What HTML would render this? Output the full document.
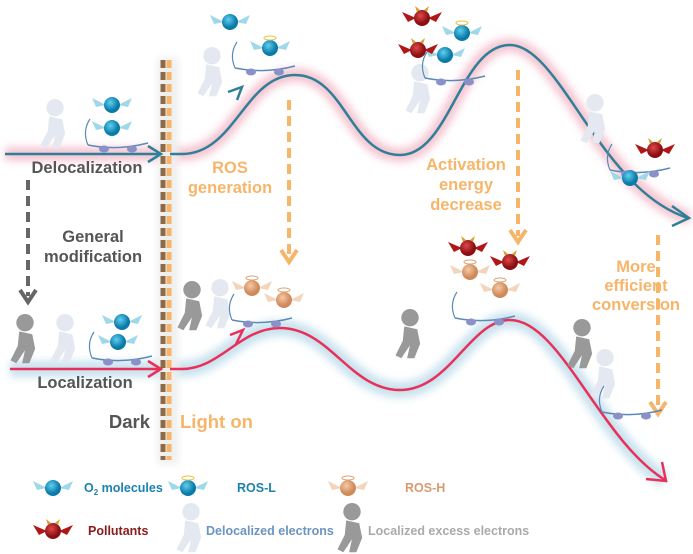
<!DOCTYPE html>
<html><head><meta charset="utf-8"><style>
body{margin:0;background:#fff}
svg{display:block;font-family:"Liberation Sans",sans-serif;font-weight:bold}
</style></head><body>
<svg width="693" height="554" viewBox="0 0 693 554">
<defs>
<filter id="b" x="-20%" y="-20%" width="140%" height="140%"><feGaussianBlur stdDeviation="4"/></filter>
<radialGradient id="blue" cx="40%" cy="35%"><stop offset="0" stop-color="#5fd0f0"/><stop offset="1" stop-color="#0a7aa8"/></radialGradient>
<radialGradient id="tan" cx="40%" cy="35%"><stop offset="0" stop-color="#f5c9a4"/><stop offset="1" stop-color="#cf8a5c"/></radialGradient>
<radialGradient id="red" cx="40%" cy="35%"><stop offset="0" stop-color="#e0484a"/><stop offset="1" stop-color="#8a0f12"/></radialGradient>
<g id="o2"><path d="M-6,0 L-20,-7 L-16,2 Z M6,0 L20,-7 L16,2 Z" fill="#9fd8e8"/><circle r="8" fill="url(#blue)"/></g>
<g id="rosl"><use href="#o2"/><ellipse cx="0" cy="-10" rx="6" ry="2" fill="none" stroke="#e8c040" stroke-width="1"/></g>
<g id="rosh"><path d="M-6,0 L-20,-7 L-16,2 Z M6,0 L20,-7 L16,2 Z" fill="#f3d4bc"/><circle r="8" fill="url(#tan)"/><ellipse cx="0" cy="-10" rx="6" ry="2" fill="none" stroke="#d9a070" stroke-width="1"/></g>
<g id="pol"><path d="M-6,0 L-20,-6 L-14,4 Z M6,0 L20,-6 L14,4 Z" fill="#b01818"/><circle r="8" fill="url(#red)"/><path d="M-5,-6 L-7,-12 L-2,-8Z M5,-6 L7,-12 L2,-8Z" fill="#d4a030"/></g>
<g id="man0"><circle cx="0" cy="-14" r="6"/><path d="M-4,-8 L5,-6 L7,4 L3,14 L-2,14 L0,5 L-6,14 L-10,12 L-5,2 Z"/></g>
<g id="man"><use href="#man0" transform="scale(1.45)"/></g>
<g id="cart"><path d="M-30,0 Q0,6 30,-2" fill="none" stroke="#5a8ab8" stroke-width="1.5"/><path d="M-30,0 Q-36,-14 -28,-26" fill="none" stroke="#5a8ab8" stroke-width="1.2"/><ellipse cx="-14" cy="4" rx="5" ry="3.5" fill="#8a90c8"/><ellipse cx="14" cy="4" rx="5" ry="3.5" fill="#8a90c8"/></g>
</defs>

<path d="M5,154 L182,154 C235,154 245,75 295,75 C345,75 350,155 400,155 C450,155 460,45 510,45 C560,45 600,190 690,218" fill="none" stroke="#f5c6d2" stroke-width="14" filter="url(#b)"/>
<path d="M10,369 L182,369 C220,369 240,328 280,328 C330,328 350,390 400,390 C450,390 470,320 510,320 C560,320 600,440 665,480" fill="none" stroke="#c9e2ee" stroke-width="16" filter="url(#b)"/>

<rect x="158" y="58" width="20" height="406" fill="#eee" filter="url(#b)"/>
<line x1="163" y1="60" x2="163" y2="460" stroke="#8b6b4a" stroke-width="5" stroke-dasharray="8,4"/>
<line x1="169" y1="60" x2="169" y2="460" stroke="#f7b56a" stroke-width="5" stroke-dasharray="8,4"/>

<path d="M5,154 L160,154 M170,154 L182,154 C235,154 245,75 295,75 C345,75 350,155 400,155 C450,155 460,45 510,45 C560,45 600,190 688,218" fill="none" stroke="#2e7f97" stroke-width="2.5"/>
<path d="M148,146 L161,154 L148,162 M228,92 L242,87 L237,100 M672,206 L689,218 L672,226" fill="none" stroke="#2e7f97" stroke-width="2.5"/>
<path d="M10,369 L160,369 M170,369 L182,369 C220,369 240,328 280,328 C330,328 350,390 400,390 C450,390 470,320 510,320 C560,320 600,440 665,480" fill="none" stroke="#e8305a" stroke-width="2.5"/>
<path d="M148,361 L161,369 L148,377 M230,335 L243,330 L236,344 M646,479 L666,481 L662,462" fill="none" stroke="#e8305a" stroke-width="2.5"/>

<g stroke-width="4" fill="none" stroke-dasharray="10,6">
<line x1="28" y1="180" x2="28" y2="296" stroke="#666"/>
<line x1="289" y1="100" x2="289" y2="256" stroke="#f7b56a"/>
<line x1="518" y1="70" x2="518" y2="236" stroke="#f7b56a"/>
<line x1="658" y1="235" x2="658" y2="408" stroke="#f7b56a"/>
</g>
<g stroke-width="4" fill="none">
<path d="M20,290 L28,302 L36,290" stroke="#666"/>
<path d="M281,250 L289,262 L297,250" stroke="#f7b56a"/>
<path d="M510,230 L518,242 L526,230" stroke="#f7b56a"/>
<path d="M650,402 L658,414 L666,402" stroke="#f7b56a"/>
</g>

<g fill="#e4e8f0">
<use href="#man" x="55" y="128"/><use href="#man" x="212" y="76"/><use href="#man" x="420" y="93"/><use href="#man" x="595" y="123"/>
<use href="#man" x="65" y="343"/><use href="#man" x="220" y="308"/><use href="#man" x="605" y="378"/>
</g>
<g fill="#999"><use href="#man" x="25" y="343"/><use href="#man" x="192" y="310"/><use href="#man" x="410" y="338"/><use href="#man" x="582" y="348"/></g>
<use href="#cart" x="118" y="145"/><use href="#cart" x="265" y="68"/><use href="#cart" x="455" y="78"/><use href="#cart" x="640" y="170"/>
<use href="#cart" x="122" y="358"/><use href="#cart" x="262" y="320"/><use href="#cart" x="485" y="318"/><use href="#cart" x="632" y="412"/>
<use href="#o2" x="112" y="105"/><use href="#o2" x="112" y="128"/><use href="#o2" x="122" y="322"/><use href="#o2" x="118" y="342"/>
<use href="#o2" x="230" y="22"/><use href="#rosl" x="270" y="48"/><use href="#rosl" x="462" y="33"/><use href="#o2" x="445" y="55"/><use href="#o2" x="630" y="178"/>
<use href="#pol" x="422" y="18"/><use href="#pol" x="418" y="50"/><use href="#pol" x="655" y="150"/>
<use href="#rosh" x="252" y="288"/><use href="#rosh" x="284" y="300"/><use href="#pol" x="468" y="248"/><use href="#rosh" x="470" y="272"/><use href="#pol" x="510" y="262"/><use href="#rosh" x="500" y="290"/>

<g font-size="16.5" fill="#555">
<text x="87" y="173" text-anchor="middle">Delocalization</text>
<text x="93" y="242" text-anchor="middle">General</text>
<text x="93" y="262" text-anchor="middle">modification</text>
<text x="85" y="388" text-anchor="middle">Localization</text>
<text x="150" y="428" text-anchor="end" font-size="18.5">Dark</text>
</g>
<g font-size="16.5" fill="#f7b56a" text-anchor="middle">
<text x="180" y="428" font-size="18.5" text-anchor="start">Light on</text>
<text x="230" y="173">ROS</text><text x="230" y="193">generation</text>
<text x="466" y="170">Activation</text><text x="466" y="190">energy</text><text x="466" y="210">decrease</text>
<text x="636" y="272">More</text><text x="636" y="291">efficient</text><text x="636" y="310">conversion</text>
</g>

<use href="#o2" x="53" y="488"/><use href="#rosl" x="188" y="488"/><use href="#rosh" x="348" y="488"/><use href="#pol" x="53" y="531"/>
<g fill="#e4e8f0"><use href="#man" x="191" y="532"/></g><g fill="#999"><use href="#man" x="352" y="532"/></g>
<g font-size="12.5">
<text x="84" y="492" fill="#1c82b0">O<tspan font-size="8" dy="3">2</tspan><tspan dy="-3"> molecules</tspan></text>
<text x="237" y="492" fill="#1c82b0">ROS-L</text>
<text x="405" y="492" fill="#d99a70">ROS-H</text>
<text x="88" y="535" fill="#8b1a1a">Pollutants</text>
<text x="206" y="535" fill="#6c94c0">Delocalized electrons</text>
<text x="368" y="535" fill="#aaa">Localized excess electrons</text>
</g>
</svg>
</body></html>
